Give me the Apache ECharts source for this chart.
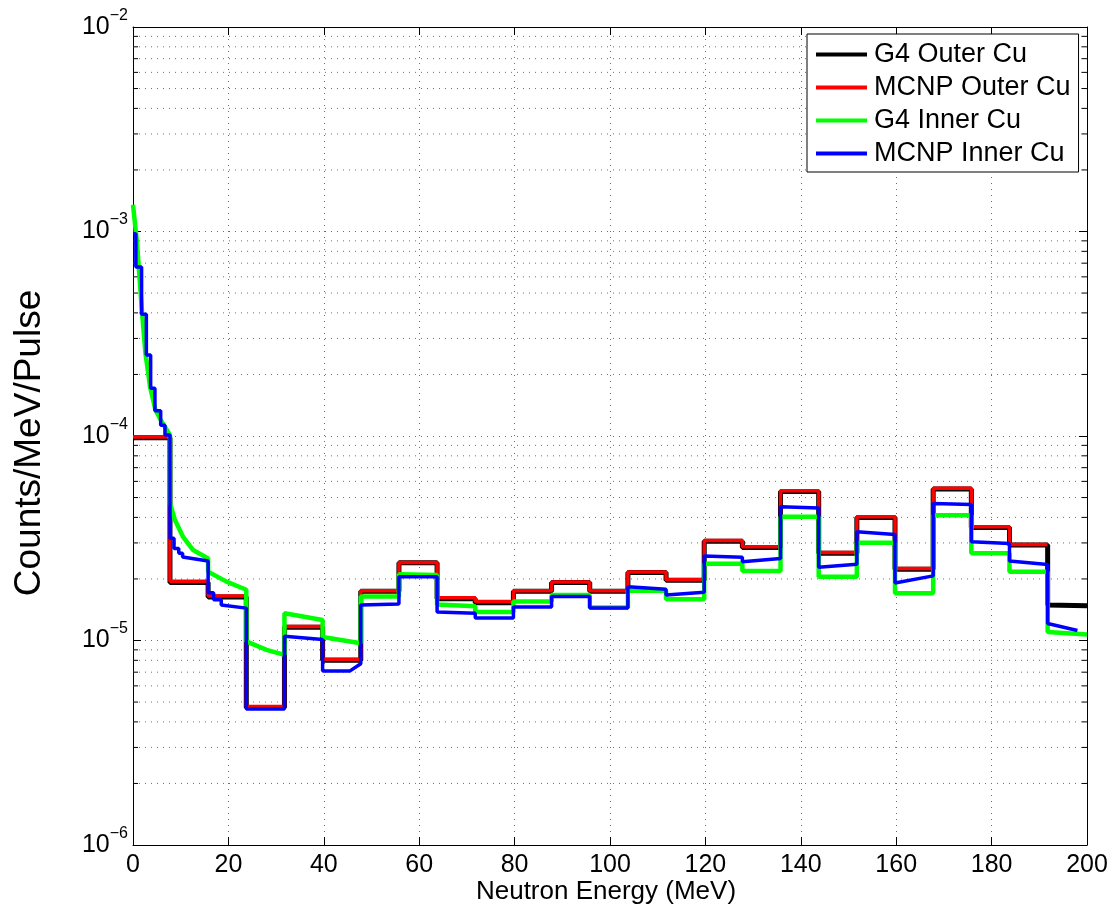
<!DOCTYPE html>
<html>
<head>
<meta charset="utf-8">
<script src="https://cdn.jsdelivr.net/npm/echarts@6/dist/echarts.min.js"></script>
<style>html,body{margin:0;padding:0;background:#fff}#c{width:1116px;height:907px}</style>
</head>
<body>
<div id="c"></div>
<script>
// ---- axis ticks ----
const xTickValues = [0, 20, 40, 60, 80, 100, 120, 140, 160, 180, 200];
const yDecades = [-6, -5, -4, -3, -2];
const yMinorMultipliers = [2, 3, 4, 5, 6, 7, 8, 9];

// ---- series names ----
const seriesNames = ['G4 Outer Cu', 'MCNP Outer Cu', 'G4 Inner Cu', 'MCNP Inner Cu'];

// ---- G4 Outer Cu (black): bin edges, start & end values per bin ----
const g4OuterEdges = [0, 7.75, 15.75, 23.75, 31.75, 39.75, 47.75, 55.75, 63.75, 71.75, 79.75, 87.75, 95.75, 103.75, 111.75, 119.75, 127.75, 135.75, 143.75, 151.75, 159.75, 167.75, 175.75, 183.75, 191.75, 200];
const g4OuterStart = [9.8e-5, 1.92e-5, 1.63e-5, 4.7e-6, 1.16e-5, 8.0e-6, 1.74e-5, 2.40e-5, 1.60e-5, 1.53e-5, 1.74e-5, 1.92e-5, 1.74e-5, 2.15e-5, 1.97e-5, 3.06e-5, 2.85e-5, 5.36e-5, 2.67e-5, 4.00e-5, 2.23e-5, 5.50e-5, 3.57e-5, 2.93e-5, 1.49e-5];
const g4OuterEnd   = [9.8e-5, 1.92e-5, 1.63e-5, 4.7e-6, 1.16e-5, 8.0e-6, 1.74e-5, 2.40e-5, 1.60e-5, 1.53e-5, 1.74e-5, 1.92e-5, 1.74e-5, 2.15e-5, 1.97e-5, 3.06e-5, 2.85e-5, 5.36e-5, 2.67e-5, 4.00e-5, 2.23e-5, 5.50e-5, 3.57e-5, 2.93e-5, 1.48e-5];

// ---- MCNP Outer Cu (red) ----
const mcnpOuterEdges = [0, 7.75, 15.75, 23.75, 31.75, 39.75, 47.75, 55.75, 63.75, 71.75, 79.75, 87.75, 95.75, 103.75, 111.75, 119.75, 127.75, 135.75, 143.75, 151.75, 159.75, 167.75, 175.75, 183.75, 191.75];
const mcnpOuterVals = [9.9e-5, 1.95e-5, 1.65e-5, 4.75e-6, 1.17e-5, 8.1e-6, 1.75e-5, 2.41e-5, 1.62e-5, 1.55e-5, 1.75e-5, 1.93e-5, 1.75e-5, 2.16e-5, 1.98e-5, 3.08e-5, 2.87e-5, 5.40e-5, 2.69e-5, 4.03e-5, 2.25e-5, 5.55e-5, 3.60e-5, 2.95e-5];

// ---- G4 Inner Cu (green) ----
const g4InnerEdges = [0, 0.4, 0.8, 1.4, 1.9, 2.6, 3.6, 4.7, 5.8, 6.8, 7.75, 8.8, 10.5, 12.6, 15.75, 19.6, 23.75, 28, 31.75, 39.75, 47.75, 55.75, 63.75, 71.75, 79.75, 87.75, 95.75, 103.75, 111.75, 119.75, 127.75, 135.75, 143.75, 151.75, 159.75, 167.75, 175.75, 183.75, 191.75, 200];
const g4InnerStart = [1.35e-3, 1.1e-3, 9.0e-4, 5.8e-4, 4.0e-4, 2.55e-4, 1.73e-4, 1.34e-4, 1.2e-4, 1.1e-4, 4.7e-5, 3.88e-5, 3.21e-5, 2.77e-5, 2.17e-5, 1.94e-5, 9.9e-6, 9.0e-6, 1.36e-5, 1.04e-5, 1.64e-5, 2.11e-5, 1.50e-5, 1.38e-5, 1.55e-5, 1.67e-5, 1.45e-5, 1.75e-5, 1.59e-5, 2.37e-5, 2.19e-5, 4.03e-5, 2.05e-5, 3.01e-5, 1.70e-5, 4.10e-5, 2.67e-5, 2.17e-5, 1.10e-5];
const g4InnerEnd   = [1.1e-3, 9.0e-4, 5.8e-4, 4.0e-4, 2.55e-4, 1.73e-4, 1.34e-4, 1.2e-4, 1.1e-4, 1.01e-4, 3.88e-5, 3.21e-5, 2.77e-5, 2.52e-5, 1.94e-5, 1.77e-5, 9.0e-6, 8.5e-6, 1.26e-5, 9.7e-6, 1.64e-5, 2.09e-5, 1.47e-5, 1.38e-5, 1.55e-5, 1.67e-5, 1.45e-5, 1.75e-5, 1.59e-5, 2.37e-5, 2.19e-5, 4.03e-5, 2.05e-5, 3.01e-5, 1.70e-5, 4.10e-5, 2.67e-5, 2.17e-5, 1.07e-5];

// ---- MCNP Inner Cu (blue) ----
const mcnpInnerEdges = [0, 0.6, 1.8, 2.8, 3.7, 4.6, 5.8, 6.7, 7.75, 8.6, 9.6, 10.4, 15.75, 16.9, 18.5, 23.75, 31.75, 39.75, 45.5, 47.75, 55.75, 63.75, 71.75, 79.75, 87.75, 95.75, 103.75, 111.75, 119.75, 127.75, 135.75, 143.75, 151.75, 159.75, 167.75, 175.75, 183.75, 191.75, 198];
const mcnpInnerStart = [9.75e-4, 6.7e-4, 3.94e-4, 2.49e-4, 1.71e-4, 1.33e-4, 1.13e-4, 1.01e-4, 3.16e-5, 2.82e-5, 2.67e-5, 2.56e-5, 1.71e-5, 1.58e-5, 1.49e-5, 4.62e-6, 1.05e-5, 7.1e-6, 7.1e-6, 1.49e-5, 2.05e-5, 1.38e-5, 1.29e-5, 1.46e-5, 1.64e-5, 1.44e-5, 1.83e-5, 1.67e-5, 2.59e-5, 2.43e-5, 4.51e-5, 2.28e-5, 3.40e-5, 1.91e-5, 4.68e-5, 3.04e-5, 2.45e-5, 1.21e-5];
const mcnpInnerEnd   = [9.75e-4, 6.7e-4, 3.94e-4, 2.49e-4, 1.71e-4, 1.33e-4, 1.13e-4, 1.01e-4, 3.16e-5, 2.82e-5, 2.67e-5, 2.45e-5, 1.71e-5, 1.58e-5, 1.44e-5, 4.62e-6, 1.01e-5, 7.1e-6, 7.7e-6, 1.51e-5, 2.05e-5, 1.36e-5, 1.29e-5, 1.46e-5, 1.64e-5, 1.44e-5, 1.78e-5, 1.72e-5, 2.55e-5, 2.52e-5, 4.45e-5, 2.36e-5, 3.30e-5, 2.07e-5, 4.62e-5, 2.98e-5, 2.35e-5, 1.12e-5];

// ---- build step polylines ----
function steps(edges, startVals, endVals) {
  const pts = [];
  for (let i = 0; i < startVals.length; i++) {
    pts.push([edges[i], startVals[i]]);
    pts.push([edges[i + 1], endVals[i]]);
  }
  return pts;
}
const blackData = steps(g4OuterEdges, g4OuterStart, g4OuterEnd);
const redData = steps(mcnpOuterEdges, mcnpOuterVals, mcnpOuterVals);
const greenData = steps(g4InnerEdges, g4InnerStart, g4InnerEnd);
const blueData = steps(mcnpInnerEdges, mcnpInnerStart, mcnpInnerEnd);

const minorVals = [];
yDecades.slice(0, -1).forEach(d => yMinorMultipliers.forEach(m => minorVals.push([0, m * Math.pow(10, d)])));

const FONT = 'Liberation Sans, Arial, Helvetica, sans-serif';
const gridColor = '#6e6e6e';
const dotted = [1, 5];

const chart = echarts.init(document.getElementById('c'), null, {renderer: 'canvas'});

function yLabel(value) {
  const e = Math.round(Math.log10(value));
  return '{b|10}{s|' + (e < 0 ? '\u2212' : '') + Math.abs(e) + '}';
}

const option = {
  animation: false,
  backgroundColor: '#fff',
  grid: {left: 133, top: 27, right: 29, bottom: 62, show: false},
  legend: {
    data: seriesNames,
    orient: 'vertical',
    left: 807,
    top: 34,
    padding: [7, 8, 5, 9],
    itemGap: 6,
    itemWidth: 51,
    itemHeight: 4,
    icon: 'rect',
    borderColor: '#000',
    borderWidth: 1,
    borderRadius: 0,
    backgroundColor: '#fff',
    textStyle: {fontFamily: FONT, fontSize: 27, lineHeight: 27, color: '#000', padding: [0, 0, 0, 2]}
  },
  xAxis: [
    {
      type: 'value', min: 0, max: 200, interval: 20, position: 'bottom',
      axisLine: {show: true, lineStyle: {color: '#000', width: 1}},
      axisTick: {show: true, inside: true, length: 8, lineStyle: {color: '#000'}},
      axisLabel: {show: true, margin: 8, fontFamily: FONT, fontSize: 25, color: '#000'},
      splitLine: {show: true, lineStyle: {color: gridColor, width: 1, type: dotted}}
    },
    {
      type: 'value', min: 0, max: 200, interval: 20, position: 'top',
      axisLine: {show: true, onZero: false, lineStyle: {color: '#000', width: 1}},
      axisTick: {show: true, inside: true, length: 8, lineStyle: {color: '#000'}},
      axisLabel: {show: false},
      splitLine: {show: false}
    }
  ],
  yAxis: [
    {
      type: 'log', logBase: 10, min: 1e-6, max: 1e-2, splitNumber: 4, position: 'left',
      axisLine: {show: true, onZero: false, lineStyle: {color: '#000', width: 1}},
      axisTick: {show: true, inside: true, length: 8, lineStyle: {color: '#000'}},
      axisLabel: {
        show: true, margin: 5, formatter: yLabel,
        rich: {
          b: {fontFamily: FONT, fontSize: 25, lineHeight: 39, color: '#000'},
          s: {fontFamily: FONT, fontSize: 16, lineHeight: 16, verticalAlign: 'top', color: '#000'}
        }
      },
      splitLine: {show: true, lineStyle: {color: gridColor, width: 1, type: dotted}}
    },
    {
      type: 'log', logBase: 10, min: 1e-6, max: 1e-2, splitNumber: 4, position: 'right',
      axisLine: {show: true, onZero: false, lineStyle: {color: '#000', width: 1}},
      axisTick: {show: true, inside: true, length: 8, lineStyle: {color: '#000'}},
      axisLabel: {show: false},
      splitLine: {show: false}
    }
  ],
  graphic: [
    {type: 'text', x: 606, y: 892, z: 100,
     style: {text: 'Neutron Energy (MeV)', fontFamily: FONT, fontSize: 26, fill: '#000', align: 'center', verticalAlign: 'middle'}},
    {type: 'text', x: 30, y: 443, rotation: Math.PI / 2, z: 100,
     style: {text: 'Counts/MeV/Pulse', fontFamily: FONT, fontSize: 37, fill: '#000', align: 'center', verticalAlign: 'middle'}}
  ],
  series: [
    {
      type: 'custom', name: 'minorGrid', silent: true, z: 1,
      xAxisIndex: 0, yAxisIndex: 0,
      data: minorVals, encode: {x: 0, y: 1},
      renderItem: function (params, api) {
        const y = api.coord([0, api.value(1)])[1];
        const cs = params.coordSys;
        const xl = cs.x, xr = cs.x + cs.width;
        return {type: 'group', children: [
          {type: 'line', shape: {x1: xl, y1: y, x2: xr, y2: y}, style: {stroke: gridColor, lineWidth: 1, lineDash: dotted}},
          {type: 'line', shape: {x1: xl, y1: y, x2: xl + 5, y2: y}, style: {stroke: '#000', lineWidth: 1}},
          {type: 'line', shape: {x1: xr - 5, y1: y, x2: xr, y2: y}, style: {stroke: '#000', lineWidth: 1}}
        ]};
      }
    },
    {name: seriesNames[0], type: 'line', data: blackData, symbol: 'none', showSymbol: false, z: 3,
     lineStyle: {color: '#000', width: 5}, itemStyle: {color: '#000'}},
    {name: seriesNames[1], type: 'line', data: redData, symbol: 'none', showSymbol: false, z: 4,
     lineStyle: {color: '#ff0000', width: 3.5}, itemStyle: {color: '#ff0000'}},
    {name: seriesNames[2], type: 'line', data: greenData, symbol: 'none', showSymbol: false, z: 5,
     lineStyle: {color: '#00ff00', width: 4.5}, itemStyle: {color: '#00ff00'}},
    {name: seriesNames[3], type: 'line', data: blueData, symbol: 'none', showSymbol: false, z: 6,
     lineStyle: {color: '#0000ff', width: 3.5}, itemStyle: {color: '#0000ff'}}
  ]
};
chart.setOption(option);
</script>
</body>
</html>
